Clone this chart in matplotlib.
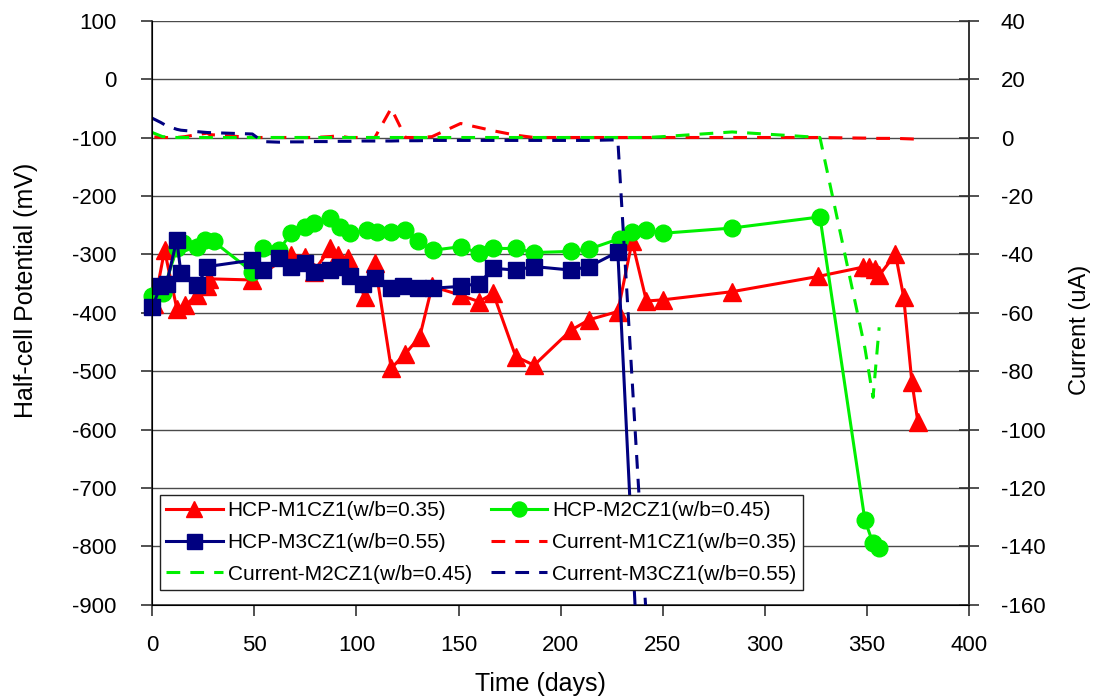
import matplotlib
matplotlib.use("Agg")
import matplotlib.pyplot as plt
from matplotlib.patches import Rectangle

plt.rcParams["font.family"] = ["Liberation Sans", "DejaVu Sans"]
plt.rcParams["axes.unicode_minus"] = False

# ---- half-cell potential (mV) ----
days_m1 = [1, 6, 12, 16, 22, 27, 28, 49, 68, 75, 79, 87, 91, 96, 104, 109, 117, 124,
           131, 137, 151, 160, 167, 178, 187, 205, 214, 228, 235, 242, 250, 284, 326,
           348, 351, 354, 356, 364, 368, 372, 375]
hcp_m1 = [-385, -293, -393, -387, -370, -355, -342, -344, -301, -304, -330, -290, -301,
          -307, -373, -315, -495, -470, -441, -355, -370, -381, -367, -475, -490, -430,
          -412, -398, -278, -380, -378, -364, -338, -322, -322, -326, -336, -300, -373,
          -518, -588]

days_m2 = [0, 5, 12, 15, 22, 26, 30, 49, 54, 62, 68, 75, 79, 87, 92, 97, 105, 110, 117,
           124, 130, 137.5, 151, 160, 167, 178, 187, 205, 214, 229, 235, 242, 250, 284,
           327, 349, 353, 356]
hcp_m2 = [-371, -367, -290, -281, -287, -275, -278, -330, -290, -293, -264, -253, -247,
          -238, -253, -264, -258, -261, -261, -258, -278, -293, -287, -298, -290, -290,
          -297, -295, -291, -273, -261, -258, -264, -255, -236, -755, -795, -803]

days_m3 = [0, 4, 7, 12, 14, 22, 27, 49, 54, 62, 68, 75, 79, 87, 92, 97, 103, 109, 117,
           123, 130, 137.5, 151, 160, 167, 178, 187, 205, 214, 228, 242]
hcp_m3 = [-390, -355, -350, -275, -332, -353, -321, -310, -327, -307, -321, -315, -330,
          -327, -321, -338, -350, -341, -358, -355, -358, -358, -355, -350, -324, -327,
          -321, -327, -321, -296, -1300]

# ---- corrosion current (uA) ----
cur_m1 = [0.2, 0.0, 0.0, 0.3, 1.0, 1.5, 1.0, 0.0, 0.0, 0.0, 0.0, 0.3, 0.6, 0.0, 0.0, 0.0,
          10.0, 0.0, 0.0, 0.3, 4.8, 3.4, 2.3, 0.8, 0.0, 0.0, 0.0, 0.0, 0.0, 0.0, 0.0, 0.0,
          0.0, -0.2, -0.2, -0.3, -0.3, -0.3, -0.4, -0.5, -0.6]
cur_m2 = [1.7, 0.3, 0.0, 0.0, 0.0, 0.0, 0.0, 0.0, 0.0, 0.0, 0.0, 0.0, 0.0, 0.0, 0.0, 0.0,
          0.0, 0.0, 0.0, 0.0, 0.0, 0.0, 0.0, 0.0, 0.0, 0.0, 0.0, 0.0, 0.0, 0.0, 0.0, 0.0,
          0.3, 1.9, 0.0, -72.0, -89.0, -65.0]
cur_m3 = [6.6, 5.2, 4.0, 2.8, 2.5, 2.0, 1.7, 1.2, -1.4, -1.6, -1.5, -1.5, -1.4, -1.4,
          -1.3, -1.3, -1.2, -1.2, -1.2, -1.1, -1.1, -1.0, -1.0, -1.0, -1.0, -1.0, -1.0,
          -1.0, -1.0, -0.8, -165.0]

labels_hcp = ["HCP-M1CZ1(w/b=0.35)", "HCP-M2CZ1(w/b=0.45)", "HCP-M3CZ1(w/b=0.55)"]
labels_cur = ["Current-M1CZ1(w/b=0.35)", "Current-M2CZ1(w/b=0.45)", "Current-M3CZ1(w/b=0.55)"]

RED, GREEN, NAVY = "#FF0000", "#00F000", "#000080"
DASH = (4.5, 3.3)

fig = plt.figure(figsize=(11.04, 7.0), dpi=100)
ax = fig.add_axes([152.3 / 1104, 1 - 604.7 / 700, 816.7 / 1104, 584 / 700])
ax2 = ax.twinx()

lw = 2.2
series = [
    (days_m1, hcp_m1, RED, "^", 13, labels_hcp[0], 3),
    (days_m2, hcp_m2, GREEN, "o", 12, labels_hcp[1], 4),
    (days_m3, hcp_m3, NAVY, "s", 12, labels_hcp[2], 5),
]
hcp_handles = []
for x, y, col, mk, ms, lab, z in series:
    # line clipped to the plot area, markers allowed to overhang its edges a little
    ax.plot(x, y, color=col, lw=lw, zorder=z)
    mline, = ax.plot(x, y, ls="none", marker=mk, ms=ms, mec=col, mfc=col, zorder=z)
    mline.set_clip_path(Rectangle((-0.03, -0.03), 1.06, 1.06, transform=ax.transAxes))
    h, = ax.plot([], [], color=col, lw=lw, marker=mk, ms=ms, mec=col, mfc=col, label=lab)
    hcp_handles.append(h)
h1, h2, h3 = hcp_handles

c1, = ax2.plot(days_m1, cur_m1, color=RED, lw=lw, ls=(0, DASH), label=labels_cur[0])
c2, = ax2.plot(days_m2, cur_m2, color=GREEN, lw=lw, ls=(0, DASH), label=labels_cur[1])
c3, = ax2.plot(days_m3, cur_m3, color=NAVY, lw=lw, ls=(0, DASH), label=labels_cur[2])

# primary axis
ax.set_xlim(0, 400)
ax.set_ylim(-900, 100)
ax.set_xticks(range(0, 401, 50))
ax.set_yticks(range(-900, 101, 100))
ax.yaxis.grid(True, color="#4a4a4a", lw=1.0)
ax.set_axisbelow(True)
ax.spines["top"].set_visible(False)
for s in ("left", "bottom", "right"):
    ax.spines[s].set_color("#333333")
    ax.spines[s].set_linewidth(1.2)
ax.tick_params(axis="x", direction="out", length=8, width=1.2, pad=14, labelsize=16,
               color="#333333")
ax.tick_params(axis="y", direction="out", length=8, width=1.2, pad=18, labelsize=16,
               color="#333333")

# secondary axis
ax2.set_ylim(-160, 40)
ax2.set_yticks(range(-160, 41, 20))
ax2.spines["top"].set_visible(False)
ax2.spines["right"].set_color("#333333")
ax2.spines["right"].set_linewidth(1.2)
ax2.tick_params(axis="y", direction="inout", length=14, width=1.2, pad=16, labelsize=16,
                color="#333333")

ax.set_xlabel("Time (days)", fontsize=18)
ax.xaxis.set_label_coords(0.475, -0.136)
ax.xaxis.label.set_va("center")
ax.set_ylabel("Half-cell Potential (mV)", fontsize=18)
ax.yaxis.set_label_coords(-0.155, 0.539)
ax.yaxis.label.set_va("center")
ax2.set_ylabel("Current (uA)", fontsize=17, rotation=90)
ax2.yaxis.set_label_coords(1.136, 0.47)
ax2.yaxis.label.set_va("center")

# legend: row-major reading order across two columns
handles = [h1, h3, c2, h2, c1, c3]
leg = ax2.legend(handles=handles, labels=[h.get_label() for h in handles], ncol=2,
                 loc="lower left", bbox_to_anchor=(160 / 1104, 1 - 590 / 700),
                 bbox_transform=fig.transFigure, borderaxespad=0, fontsize=15,
                 frameon=True, fancybox=False, framealpha=1, edgecolor="#222222",
                 handlelength=2.7, handletextpad=0.25, columnspacing=0.9,
                 labelspacing=0.62, borderpad=0.3, markerscale=0.9)
leg.get_frame().set_linewidth(1.0)
leg.set_zorder(10)

fig.savefig("out.png", dpi=100)
